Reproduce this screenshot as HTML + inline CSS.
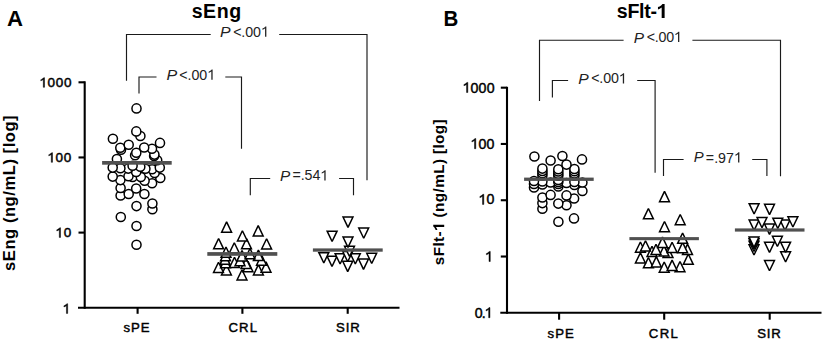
<!DOCTYPE html><html><head><meta charset="utf-8"><title>sEng sFlt-1</title><style>
html,body{margin:0;padding:0;background:#fff;}
body{width:823px;height:342px;overflow:hidden;}
svg{display:block;}
.h{fill-opacity:0;stroke-opacity:0;}
text{font-family:"Liberation Sans",sans-serif;}
.lt,.tt{font-weight:bold;fill:#000;}
.yl{font-weight:bold;fill:#000;}
.tk{fill:#000;stroke:#000;stroke-width:0.45px;}
.p{fill:#222;}
.pi{fill:#222;font-style:italic;}
</style></head><body><svg width="823" height="342" viewBox="0 0 823 342"><rect width="823" height="342" fill="#fff"/><text x="7.11" y="26.00" class="lt" font-size="21.63" textLength="16.01" lengthAdjust="spacingAndGlyphs">A</text><text x="443.38" y="26.00" class="lt" font-size="21.63" textLength="14.78" lengthAdjust="spacingAndGlyphs">B</text><text x="191.63" y="18.02" class="tt" font-size="19.60" textLength="49.49" lengthAdjust="spacing">sEng</text><text x="616.86" y="18.10" class="tt" font-size="19.60" textLength="50.73" lengthAdjust="spacing">sFlt-<tspan class="h">1</tspan></text><text x="39.38" y="87.33" class="tk" font-size="13.51" textLength="32.05" lengthAdjust="spacing"><tspan class="h">1</tspan>000</text><text x="47.36" y="162.33" class="tk" font-size="13.51" textLength="24.03" lengthAdjust="spacing"><tspan class="h">1</tspan>00</text><text x="55.38" y="237.43" class="tk" font-size="13.51" textLength="16.01" lengthAdjust="spacing"><tspan class="h">1</tspan>0</text><text x="62.52" y="313.43" class="tk" font-size="13.51"><tspan class="h">1</tspan></text><text x="462.44" y="92.53" class="tk" font-size="14.16" textLength="32.08" lengthAdjust="spacing"><tspan class="h">1</tspan>000</text><text x="470.41" y="148.73" class="tk" font-size="14.16" textLength="24.08" lengthAdjust="spacing"><tspan class="h">1</tspan>00</text><text x="478.41" y="204.43" class="tk" font-size="14.16" textLength="16.02" lengthAdjust="spacing"><tspan class="h">1</tspan>0</text><text x="484.89" y="261.53" class="tk" font-size="14.16"><tspan class="h">1</tspan></text><text x="474.84" y="317.73" class="tk" font-size="14.16" textLength="17.59" lengthAdjust="spacing">0.<tspan class="h">1</tspan></text><text x="123.38" y="332.13" class="tk" font-size="13.17" textLength="26.08" lengthAdjust="spacing">sPE</text><text x="228.44" y="332.13" class="tk" font-size="13.17" textLength="28.63" lengthAdjust="spacing">CRL</text><text x="336.03" y="332.18" class="tk" font-size="13.17" textLength="23.80" lengthAdjust="spacing">SIR</text><text x="547.62" y="338.43" class="tk" font-size="13.17" textLength="26.16" lengthAdjust="spacing">sPE</text><text x="648.82" y="337.63" class="tk" font-size="13.17" textLength="29.01" lengthAdjust="spacing">CRL</text><text x="757.17" y="337.68" class="tk" font-size="13.17" textLength="23.53" lengthAdjust="spacing">SIR</text><text class="yl" transform="translate(15.00 270.91) rotate(-90)" font-size="16.60" textLength="155.56" lengthAdjust="spacing">sEng (ng/mL) [log]</text><text class="yl" transform="translate(444.20 265.18) rotate(-90)" font-size="15.30" textLength="145.89" lengthAdjust="spacing">sFlt-<tspan class="h">1</tspan> (ng/mL) [log]</text><g stroke="#000" stroke-width="2.1" fill="none"><path d="M84.7 81.3V308.75"/><path d="M78 307.75H399.5"/><path d="M78.5 82.30H84.7"/><path d="M78.5 157.45H84.7"/><path d="M78.5 232.60H84.7"/><path d="M137.6 307.75V313.8"/><path d="M242.4 307.75V313.8"/><path d="M347.7 307.75V313.8"/><path d="M507.0 86.8V313.8"/><path d="M500.3 312.8H821.5"/><path d="M500.8 87.68H507.0"/><path d="M500.8 143.96H507.0"/><path d="M500.8 200.24H507.0"/><path d="M500.8 256.52H507.0"/><path d="M559.1 312.8V319.7"/><path d="M664.2 312.8V319.7"/><path d="M769.7 312.8V319.7"/></g><g stroke="#1a1a1a" stroke-width="1.15" fill="none"><path d="M126.5 80.8V34.5H210.7"/><path d="M279.2 34.5H367.0V180.3"/><path d="M139.0 93.5V77.0H156.5"/><path d="M225.3 77.0H241.5V148.7"/><path d="M250.3 195.2V178.5H270.2"/><path d="M339.1 178.5H353.5V195.2"/><path d="M539.5 100.9V40.2H623.6"/><path d="M692.4 40.2H780.5V176.3"/><path d="M552.4 97.4V80.5H568.1"/><path d="M637.2 80.5H655.1V172.8"/><path d="M663.5 176.1V159.5H683.6"/><path d="M752.2 159.5H766.9V176.1"/></g><text x="220.11" y="36.96" class="pi" font-size="14.24" textLength="10.58" lengthAdjust="spacingAndGlyphs">P</text><text x="233.13" y="36.64" class="p" font-size="14.24" textLength="35.72" lengthAdjust="spacing">&lt;.00<tspan class="h">1</tspan></text><text x="166.52" y="79.87" class="pi" font-size="14.24" textLength="10.69" lengthAdjust="spacingAndGlyphs">P</text><text x="179.13" y="79.74" class="p" font-size="14.24" textLength="35.99" lengthAdjust="spacing">&lt;.00<tspan class="h">1</tspan></text><text x="279.94" y="180.95" class="pi" font-size="14.24" textLength="10.22" lengthAdjust="spacingAndGlyphs">P</text><text x="292.50" y="180.44" class="p" font-size="14.24" textLength="35.61" lengthAdjust="spacing">=.54<tspan class="h">1</tspan></text><text x="633.88" y="42.54" class="pi" font-size="14.24" textLength="10.29" lengthAdjust="spacingAndGlyphs">P</text><text x="646.80" y="41.94" class="p" font-size="14.24" textLength="35.02" lengthAdjust="spacing">&lt;.00<tspan class="h">1</tspan></text><text x="578.31" y="83.86" class="pi" font-size="14.24" textLength="10.45" lengthAdjust="spacingAndGlyphs">P</text><text x="591.13" y="83.44" class="p" font-size="14.24" textLength="35.48" lengthAdjust="spacing">&lt;.00<tspan class="h">1</tspan></text><text x="693.86" y="162.26" class="pi" font-size="14.24" textLength="9.89" lengthAdjust="spacingAndGlyphs">P</text><text x="705.85" y="162.54" class="p" font-size="14.24" textLength="36.01" lengthAdjust="spacing">=.97<tspan class="h">1</tspan></text><g fill="#fff" stroke="#000" stroke-width="1.5" stroke-linejoin="miter" stroke-miterlimit="2"><circle cx="136.5" cy="244.8" r="4.55"/><circle cx="136.5" cy="226.0" r="4.55"/><circle cx="120.8" cy="217.0" r="4.55"/><circle cx="152.4" cy="209.3" r="4.55"/><circle cx="136.5" cy="206.1" r="4.55"/><circle cx="152.4" cy="203.5" r="4.55"/><circle cx="120.6" cy="195.5" r="4.55"/><circle cx="128.7" cy="194.0" r="4.55"/><circle cx="144.4" cy="194.0" r="4.55"/><circle cx="136.2" cy="188.5" r="4.55"/><circle cx="120.6" cy="188.0" r="4.55"/><circle cx="152.1" cy="183.2" r="4.55"/><circle cx="144.6" cy="180.8" r="4.55"/><circle cx="120.4" cy="180.1" r="4.55"/><circle cx="160.3" cy="178.0" r="4.55"/><circle cx="132.6" cy="177.0" r="4.55"/><circle cx="140.8" cy="177.0" r="4.55"/><circle cx="112.7" cy="176.6" r="4.55"/><circle cx="128.5" cy="176.2" r="4.55"/><circle cx="154.6" cy="172.9" r="4.55"/><circle cx="136.2" cy="171.9" r="4.55"/><circle cx="152.1" cy="169.3" r="4.55"/><circle cx="145.4" cy="168.8" r="4.55"/><circle cx="128.2" cy="168.6" r="4.55"/><circle cx="120.4" cy="168.3" r="4.55"/><circle cx="112.7" cy="167.6" r="4.55"/><circle cx="159.8" cy="167.6" r="4.55"/><circle cx="140.3" cy="166.8" r="4.55"/><circle cx="132.6" cy="165.7" r="4.55"/><circle cx="157.2" cy="160.3" r="4.55"/><circle cx="116.9" cy="159.0" r="4.55"/><circle cx="154.1" cy="156.0" r="4.55"/><circle cx="135.1" cy="155.3" r="4.55"/><circle cx="154.4" cy="154.6" r="4.55"/><circle cx="136.3" cy="152.8" r="4.55"/><circle cx="121.0" cy="149.8" r="4.55"/><circle cx="152.0" cy="148.7" r="4.55"/><circle cx="120.3" cy="147.7" r="4.55"/><circle cx="144.2" cy="147.5" r="4.55"/><circle cx="128.7" cy="144.7" r="4.55"/><circle cx="160.0" cy="142.9" r="4.55"/><circle cx="112.9" cy="138.8" r="4.55"/><circle cx="140.4" cy="136.0" r="4.55"/><circle cx="136.3" cy="131.4" r="4.55"/><circle cx="136.5" cy="108.4" r="4.55"/><path d="M242.00 269.75L246.95 280.05L237.05 280.05Z"/><path d="M226.40 264.75L231.35 275.05L221.45 275.05Z"/><path d="M258.40 264.65L263.35 274.95L253.45 274.95Z"/><path d="M218.50 262.25L223.45 272.55L213.55 272.55Z"/><path d="M266.00 261.85L270.95 272.15L261.05 272.15Z"/><path d="M248.00 261.35L252.95 271.65L243.05 271.65Z"/><path d="M246.00 258.15L250.95 268.45L241.05 268.45Z"/><path d="M225.50 257.55L230.45 267.85L220.55 267.85Z"/><path d="M234.50 257.25L239.45 267.55L229.55 267.55Z"/><path d="M240.00 255.35L244.95 265.65L235.05 265.65Z"/><path d="M261.50 254.85L266.45 265.15L256.55 265.15Z"/><path d="M225.00 254.05L229.95 264.35L220.05 264.35Z"/><path d="M242.00 250.65L246.95 260.95L237.05 260.95Z"/><path d="M225.50 250.55L230.45 260.85L220.55 260.85Z"/><path d="M258.40 250.15L263.35 260.45L253.45 260.45Z"/><path d="M250.00 248.55L254.95 258.85L245.05 258.85Z"/><path d="M226.00 247.05L230.95 257.35L221.05 257.35Z"/><path d="M234.30 242.75L239.25 253.05L229.35 253.05Z"/><path d="M266.60 238.75L271.55 249.05L261.65 249.05Z"/><path d="M218.60 238.55L223.55 248.85L213.65 248.85Z"/><path d="M246.50 238.55L251.45 248.85L241.55 248.85Z"/><path d="M242.40 230.75L247.35 241.05L237.45 241.05Z"/><path d="M258.20 225.65L263.15 235.95L253.25 235.95Z"/><path d="M226.60 221.85L231.55 232.15L221.65 232.15Z"/><path d="M342.75 261.35L352.65 261.35L347.70 271.65Z"/><path d="M358.55 259.05L368.45 259.05L363.50 269.35Z"/><path d="M327.05 256.15L336.95 256.15L332.00 266.45Z"/><path d="M335.15 253.75L345.05 253.75L340.10 264.05Z"/><path d="M350.35 253.75L360.25 253.75L355.30 264.05Z"/><path d="M366.75 253.25L376.65 253.25L371.70 263.55Z"/><path d="M318.85 252.65L328.75 252.65L323.80 262.95Z"/><path d="M342.75 251.45L352.65 251.45L347.70 261.75Z"/><path d="M344.55 246.25L354.45 246.25L349.50 256.55Z"/><path d="M343.05 237.05L352.95 237.05L348.00 247.35Z"/><path d="M327.15 231.15L337.05 231.15L332.10 241.45Z"/><path d="M358.75 227.95L368.65 227.95L363.70 238.25Z"/><path d="M343.05 217.05L352.95 217.05L348.00 227.35Z"/><circle cx="558.4" cy="221.7" r="4.55"/><circle cx="574.0" cy="218.4" r="4.55"/><circle cx="542.4" cy="208.8" r="4.55"/><circle cx="566.5" cy="205.2" r="4.55"/><circle cx="558.3" cy="203.6" r="4.55"/><circle cx="542.4" cy="203.1" r="4.55"/><circle cx="574.1" cy="198.5" r="4.55"/><circle cx="542.4" cy="197.5" r="4.55"/><circle cx="566.5" cy="195.4" r="4.55"/><circle cx="550.6" cy="194.9" r="4.55"/><circle cx="582.4" cy="191.0" r="4.55"/><circle cx="534.0" cy="187.5" r="4.55"/><circle cx="558.3" cy="186.5" r="4.55"/><circle cx="574.4" cy="185.0" r="4.55"/><circle cx="542.4" cy="184.5" r="4.55"/><circle cx="534.0" cy="184.0" r="4.55"/><circle cx="558.3" cy="184.0" r="4.55"/><circle cx="566.5" cy="183.0" r="4.55"/><circle cx="550.6" cy="182.5" r="4.55"/><circle cx="582.4" cy="182.5" r="4.55"/><circle cx="558.3" cy="182.0" r="4.55"/><circle cx="574.4" cy="182.0" r="4.55"/><circle cx="542.4" cy="181.5" r="4.55"/><circle cx="534.0" cy="181.0" r="4.55"/><circle cx="558.3" cy="180.0" r="4.55"/><circle cx="558.3" cy="175.8" r="4.55"/><circle cx="574.4" cy="175.7" r="4.55"/><circle cx="542.4" cy="175.5" r="4.55"/><circle cx="558.3" cy="173.7" r="4.55"/><circle cx="574.4" cy="173.5" r="4.55"/><circle cx="542.4" cy="173.3" r="4.55"/><circle cx="558.3" cy="171.5" r="4.55"/><circle cx="574.4" cy="171.3" r="4.55"/><circle cx="542.4" cy="171.0" r="4.55"/><circle cx="558.3" cy="169.2" r="4.55"/><circle cx="574.4" cy="169.0" r="4.55"/><circle cx="542.4" cy="168.6" r="4.55"/><circle cx="566.5" cy="164.6" r="4.55"/><circle cx="550.6" cy="160.5" r="4.55"/><circle cx="582.0" cy="159.4" r="4.55"/><circle cx="534.4" cy="156.5" r="4.55"/><circle cx="562.4" cy="156.0" r="4.55"/><path d="M664.20 261.95L669.15 272.25L659.25 272.25Z"/><path d="M680.00 261.45L684.95 271.75L675.05 271.75Z"/><path d="M672.10 260.15L677.05 270.45L667.15 270.45Z"/><path d="M648.40 257.55L653.35 267.85L643.45 267.85Z"/><path d="M656.30 256.65L661.25 266.95L651.35 266.95Z"/><path d="M688.30 254.05L693.25 264.35L683.35 264.35Z"/><path d="M640.40 252.75L645.35 263.05L635.45 263.05Z"/><path d="M668.00 247.25L672.95 257.55L663.05 257.55Z"/><path d="M652.00 246.25L656.95 256.55L647.05 256.55Z"/><path d="M664.00 245.75L668.95 256.05L659.05 256.05Z"/><path d="M656.00 244.25L660.95 254.55L651.05 254.55Z"/><path d="M687.50 244.15L692.45 254.45L682.55 254.45Z"/><path d="M682.60 242.35L687.55 252.65L677.65 252.65Z"/><path d="M672.10 242.25L677.05 252.55L667.15 252.55Z"/><path d="M640.40 241.95L645.35 252.25L635.45 252.25Z"/><path d="M645.50 240.75L650.45 251.05L640.55 251.05Z"/><path d="M662.50 237.15L667.45 247.45L657.55 247.45Z"/><path d="M682.60 233.05L687.55 243.35L677.65 243.35Z"/><path d="M664.50 221.45L669.45 231.75L659.55 231.75Z"/><path d="M680.20 214.45L685.15 224.75L675.25 224.75Z"/><path d="M648.40 208.55L653.35 218.85L643.45 218.85Z"/><path d="M664.50 191.35L669.45 201.65L659.55 201.65Z"/><path d="M764.55 260.45L774.45 260.45L769.50 270.75Z"/><path d="M780.65 251.75L790.55 251.75L785.60 262.05Z"/><path d="M749.05 244.75L758.95 244.75L754.00 255.05Z"/><path d="M764.55 242.15L774.45 242.15L769.50 252.45Z"/><path d="M780.65 242.15L790.55 242.15L785.60 252.45Z"/><path d="M749.05 241.25L758.95 241.25L754.00 251.55Z"/><path d="M749.05 238.75L758.95 238.75L754.00 249.05Z"/><path d="M749.05 237.05L758.95 237.05L754.00 247.35Z"/><path d="M772.45 236.25L782.35 236.25L777.40 246.55Z"/><path d="M764.55 224.05L774.45 224.05L769.50 234.35Z"/><path d="M749.15 220.05L759.05 220.05L754.10 230.35Z"/><path d="M780.05 220.05L789.95 220.05L785.00 230.35Z"/><path d="M772.85 218.15L782.75 218.15L777.80 228.45Z"/><path d="M757.05 217.45L766.95 217.45L762.00 227.75Z"/><path d="M787.95 216.75L797.85 216.75L792.90 227.05Z"/><path d="M764.55 204.35L774.45 204.35L769.50 214.65Z"/><path d="M749.15 203.65L759.05 203.65L754.10 213.95Z"/></g><g fill="#505050"><rect x="102.1" y="161.0" width="69.6" height="3.7"/><rect x="207.3" y="252.1" width="70.0" height="3.7"/><rect x="312.9" y="248.4" width="69.8" height="3.3"/><rect x="524.1" y="177.6" width="69.6" height="3.3"/><rect x="629.4" y="237.1" width="69.5" height="3.1"/><rect x="734.9" y="228.4" width="69.6" height="3.2"/></g><path d="M664.62 18.10 L664.62 4.07 L662.47 4.07 L661.39 5.26 L659.62 6.44 L657.96 7.12 L657.96 9.38 L659.82 8.69 L660.90 8.10 L661.68 7.52 L661.68 18.10Z" fill="rgb(0, 0, 0)"/><path d="M44.53 87.33 L44.53 77.66 L43.68 77.66 L43.03 78.35 L41.95 79.16 L40.80 79.70 L40.80 80.85 L42.08 80.30 L42.83 79.83 L43.30 79.43 L43.30 87.33Z" fill="rgb(0, 0, 0)" stroke="rgb(0, 0, 0)" stroke-width="0.45px" stroke-linejoin="miter"/><path d="M52.51 162.33 L52.51 152.66 L51.66 152.66 L51.01 153.35 L49.93 154.16 L48.78 154.70 L48.78 155.85 L50.06 155.30 L50.81 154.83 L51.28 154.43 L51.28 162.33Z" fill="rgb(0, 0, 0)" stroke="rgb(0, 0, 0)" stroke-width="0.45px" stroke-linejoin="miter"/><path d="M60.53 237.43 L60.53 227.76 L59.68 227.76 L59.03 228.45 L57.95 229.26 L56.80 229.80 L56.80 230.95 L58.08 230.40 L58.83 229.93 L59.30 229.53 L59.30 237.43Z" fill="rgb(0, 0, 0)" stroke="rgb(0, 0, 0)" stroke-width="0.45px" stroke-linejoin="miter"/><path d="M67.67 313.43 L67.67 303.76 L66.82 303.76 L66.17 304.45 L65.09 305.26 L63.94 305.80 L63.94 306.95 L65.22 306.40 L65.97 305.93 L66.44 305.53 L66.44 313.43Z" fill="rgb(0, 0, 0)" stroke="rgb(0, 0, 0)" stroke-width="0.45px" stroke-linejoin="miter"/><path d="M467.83 92.53 L467.83 82.39 L466.94 82.39 L466.26 83.11 L465.13 83.96 L463.93 84.53 L463.93 85.73 L465.27 85.17 L466.05 84.67 L466.55 84.25 L466.55 92.53Z" fill="rgb(0, 0, 0)" stroke="rgb(0, 0, 0)" stroke-width="0.45px" stroke-linejoin="miter"/><path d="M475.80 148.73 L475.80 138.59 L474.91 138.59 L474.23 139.31 L473.10 140.16 L471.90 140.73 L471.90 141.93 L473.24 141.37 L474.02 140.87 L474.52 140.45 L474.52 148.73Z" fill="rgb(0, 0, 0)" stroke="rgb(0, 0, 0)" stroke-width="0.45px" stroke-linejoin="miter"/><path d="M483.80 204.43 L483.80 194.29 L482.91 194.29 L482.23 195.01 L481.10 195.86 L479.90 196.43 L479.90 197.63 L481.24 197.07 L482.02 196.57 L482.52 196.15 L482.52 204.43Z" fill="rgb(0, 0, 0)" stroke="rgb(0, 0, 0)" stroke-width="0.45px" stroke-linejoin="miter"/><path d="M490.28 261.53 L490.28 251.39 L489.39 251.39 L488.71 252.11 L487.58 252.96 L486.38 253.53 L486.38 254.73 L487.72 254.17 L488.50 253.67 L489.00 253.25 L489.00 261.53Z" fill="rgb(0, 0, 0)" stroke="rgb(0, 0, 0)" stroke-width="0.45px" stroke-linejoin="miter"/><path d="M489.95 317.73 L489.95 307.59 L489.06 307.59 L488.38 308.31 L487.25 309.16 L486.04 309.73 L486.04 310.93 L487.39 310.37 L488.17 309.87 L488.66 309.45 L488.66 317.73Z" fill="rgb(0, 0, 0)" stroke="rgb(0, 0, 0)" stroke-width="0.45px" stroke-linejoin="miter"/><path d="M40.43 0.00 L40.43 -10.95 L38.75 -10.95 L37.91 -10.02 L36.53 -9.10 L35.23 -8.57 L35.23 -6.81 L36.68 -7.34 L37.52 -7.80 L38.14 -8.26 L38.14 0.00Z" fill="rgb(0, 0, 0)" transform="translate(444.20 265.18) rotate(-90)"/><path d="M266.35 36.64 L266.35 26.44 L265.46 26.44 L264.77 27.17 L263.63 28.02 L262.42 28.59 L262.42 29.80 L263.78 29.24 L264.56 28.74 L265.06 28.31 L265.06 36.64Z" fill="rgb(34, 34, 34)"/><path d="M212.62 79.74 L212.62 69.54 L211.73 69.54 L211.04 70.27 L209.90 71.12 L208.69 71.69 L208.69 72.90 L210.05 72.34 L210.83 71.84 L211.33 71.41 L211.33 79.74Z" fill="rgb(34, 34, 34)"/><path d="M325.61 180.44 L325.61 170.24 L324.72 170.24 L324.03 170.97 L322.89 171.82 L321.68 172.39 L321.68 173.60 L323.04 173.04 L323.82 172.54 L324.32 172.11 L324.32 180.44Z" fill="rgb(34, 34, 34)"/><path d="M679.32 41.94 L679.32 31.74 L678.43 31.74 L677.74 32.47 L676.60 33.32 L675.39 33.89 L675.39 35.10 L676.75 34.54 L677.53 34.04 L678.03 33.61 L678.03 41.94Z" fill="rgb(34, 34, 34)"/><path d="M624.11 83.44 L624.11 73.24 L623.22 73.24 L622.53 73.97 L621.39 74.82 L620.18 75.39 L620.18 76.60 L621.54 76.04 L622.32 75.54 L622.82 75.11 L622.82 83.44Z" fill="rgb(34, 34, 34)"/><path d="M739.36 162.54 L739.36 152.34 L738.47 152.34 L737.78 153.07 L736.64 153.92 L735.43 154.49 L735.43 155.70 L736.79 155.14 L737.57 154.64 L738.07 154.21 L738.07 162.54Z" fill="rgb(34, 34, 34)"/></svg></body></html>
